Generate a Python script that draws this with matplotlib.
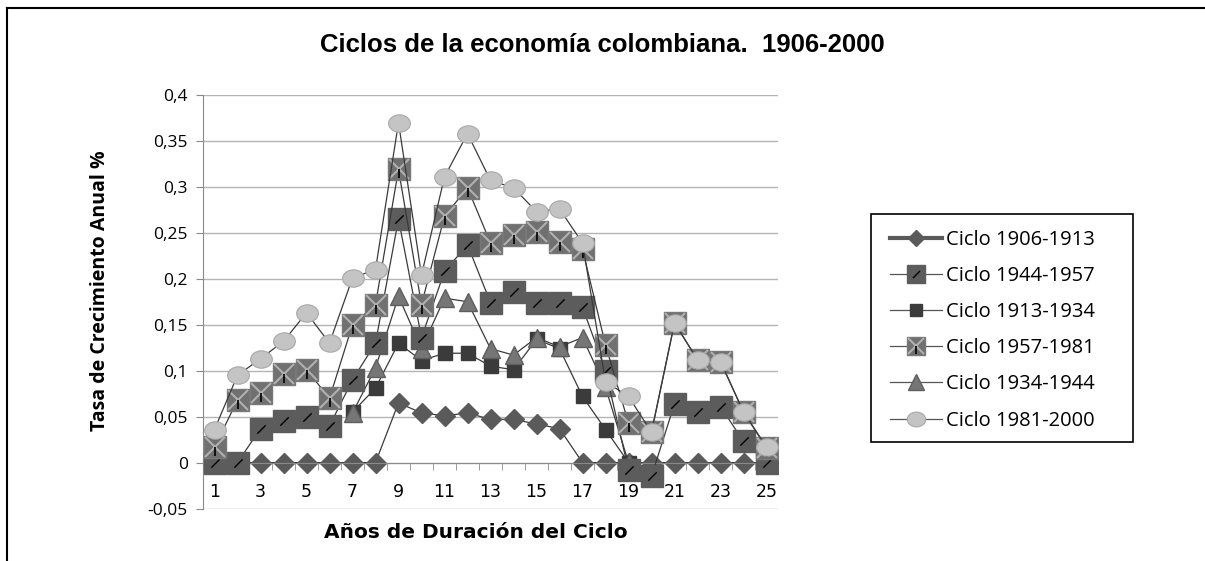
import numpy as np
import matplotlib
matplotlib.use("Agg")
import matplotlib.pyplot as plt
from matplotlib.lines import Line2D
from matplotlib.markers import MarkerStyle
from matplotlib.transforms import Affine2D
from matplotlib.legend_handler import HandlerTuple

# data
years = np.arange(1, 26)
nan = np.nan
c1906 = [0, 0, 0, 0, 0, 0, 0, 0, 0.065, 0.054, 0.051, 0.054, 0.047, 0.047, 0.042,
         0.037, 0, 0, 0, 0, 0, 0, 0, 0, 0]
c1944 = [0, 0, 0.037, 0.045, 0.05, 0.04, 0.09, 0.13, 0.265, 0.136, 0.208, 0.237,
         0.174, 0.186, 0.174, 0.174, 0.169, 0.1, -0.008, -0.015, 0.064, 0.055, 0.061,
         0.023, 0.0]
c1913 = [nan, nan, nan, nan, nan, nan, 0.055, 0.081, 0.13, 0.111, 0.119, 0.119,
         0.105, 0.101, 0.134, 0.124, 0.072, 0.036, 0.0, nan, nan, nan, nan, nan, nan]
c1957 = [0.017, 0.068, 0.076, 0.096, 0.101, 0.07, 0.15, 0.172, 0.319, 0.172, 0.268,
         0.299, 0.239, 0.248, 0.251, 0.24, 0.232, 0.128, 0.043, 0.033, 0.152, 0.112,
         0.11, 0.055, 0.016]
c1934 = [nan, nan, nan, nan, nan, nan, 0.054, 0.103, 0.181, 0.124, 0.179, 0.175,
         0.124, 0.117, 0.136, 0.126, 0.136, 0.082, 0.0, nan, nan, nan, nan, nan, nan]
c1981 = [0.036, 0.095, 0.113, 0.132, 0.163, 0.13, 0.201, 0.21, 0.37, 0.204, 0.311,
         0.358, 0.307, 0.299, 0.273, 0.276, 0.239, 0.088, 0.072, 0.033, 0.152, 0.112,
         0.11, 0.055, 0.017]

labels = ["Ciclo 1906-1913", "Ciclo 1944-1957", "Ciclo 1913-1934",
          "Ciclo 1957-1981", "Ciclo 1934-1944", "Ciclo 1981-2000"]
ytick_vals = [-0.05, 0, 0.05, 0.1, 0.15, 0.2, 0.25, 0.3, 0.35, 0.4]
ytick_text = ["-0,05", "0", "0,05", "0,1", "0,15", "0,2", "0,25", "0,3", "0,35", "0,4"]

W, H = 1205, 561
LINE = "#3a3a3a"
FONT = ["Open Sans", "DejaVu Sans"]

oval = MarkerStyle("o", transform=Affine2D().scale(1.25, 1.0))
slash = [(-1, -1), (1, 1)]
stem = [(0, 0), (0, -1)]


def styles():
    # marker layers per series
    s = {}
    s["1906"] = [dict(marker="D", ms=10, mfc="#5a5a5a", mec="#5a5a5a")]
    s["1944"] = [dict(marker="s", ms=16, mfc="#5c5c5c", mec="#5c5c5c"),
                 dict(marker=slash, ms=6, mfc="none", mec="black", mew=1.0)]
    s["1913"] = [dict(marker="s", ms=10.5, mfc="#3b3b3b", mec="#3b3b3b")]
    s["1957"] = [dict(marker="s", ms=16, mfc="#707070", mec="#787878"),
                 dict(marker="x", ms=14, mfc="none", mec="#b0b0b0", mew=1.5),
                 dict(marker=stem, ms=13, mfc="none", mec="black", mew=1.2)]
    s["1934"] = [dict(marker="^", ms=13.5, mfc="#767676", mec="#5e5e5e", mew=1.0)]
    s["1981"] = [dict(marker=oval, ms=12.5, mfc="#c4c4c4", mec="#a8a8a8", mew=0.8)]
    return s


def plotting():
    fig = plt.figure(figsize=(W / 100, H / 100), dpi=100)
    ax = fig.add_axes([203 / W, 1 - 509 / H, 575 / W, 414 / H])

    series = [("1906", c1906, 2), ("1944", c1944, 5), ("1913", c1913, 3),
              ("1957", c1957, 6), ("1934", c1934, 4), ("1981", c1981, 7)]
    st = styles()
    handles = []
    for key, vals, z in series:
        y = np.array(vals, dtype=float)
        ax.plot(years, y, color=LINE, lw=0.9, zorder=z)
        parts = []
        for i, m in enumerate(st[key]):
            ax.plot(years, y, ls="none", zorder=z + 0.01 * (i + 1), **m)
            mm = dict(m)
            mm["ms"] = m["ms"] * 0.85
            parts.append(Line2D([], [], ls="none", **mm))
        if key == "1906":
            line = Line2D([], [], color="#5a5a5a", lw=3)
        else:
            line = Line2D([], [], color="#555555", lw=0.9)
        handles.append(tuple([line] + parts))

    ax.set_xlim(0.5, 25.5)
    ax.set_ylim(-0.0505, 0.4)
    ax.set_xticks(range(1, 26, 2))
    ax.set_xticks(np.arange(0.5, 25.6, 1), minor=True)
    ax.set_yticks(ytick_vals)
    ax.set_yticklabels(ytick_text)
    ax.tick_params(axis="x", which="major", length=0, pad=15, labelsize=12.5)
    ax.tick_params(axis="x", which="minor", length=5, color="#8a8a8a")
    ax.tick_params(axis="y", length=5, color="#8a8a8a", labelsize=12.5, pad=6)
    for lab in ax.get_xticklabels() + ax.get_yticklabels():
        lab.set_family(FONT)
    ax.spines["bottom"].set_position(("data", 0))
    ax.spines["bottom"].set_color("#8a8a8a")
    ax.spines["left"].set_color("#8a8a8a")
    ax.spines["top"].set_visible(False)
    ax.spines["right"].set_visible(False)
    ax.yaxis.grid(True, color="#b4b4b4", lw=1)
    ax.set_axisbelow(True)

    fig.text(0.5, 1 - 45 / H, "Ciclos de la economía colombiana.  1906-2000",
             ha="center", va="center", fontsize=18.5, fontweight="bold",
             family=["Liberation Sans", "DejaVu Sans"])
    fig.text(100 / W, 1 - 291 / H, "Tasa de Crecimiento Anual %", rotation=90,
             ha="center", va="center", fontsize=14, fontweight="bold", family=FONT)
    fig.text(476 / W, 1 - 532 / H, "Años de Duración del Ciclo", ha="center",
             va="center", fontsize=14.5, fontweight="bold", family=["DejaVu Sans"])

    # legend box
    fig.patches.append(plt.Rectangle((871 / W, 1 - 442 / H), 262 / W, 228 / H,
                                     transform=fig.transFigure, fill=False,
                                     ec="black", lw=1.2))
    fig.legend(handles, labels, loc="upper left",
               bbox_to_anchor=(890 / W, 1 - 230 / H), frameon=False,
               borderpad=0, borderaxespad=0, labelspacing=0.8,
               handlelength=2.6, handletextpad=0.2,
               handler_map={tuple: HandlerTuple(ndivide=1, pad=0)},
               prop={"family": FONT, "size": 14.5})

    # outer frame (top and left edges)
    fig.add_artist(Line2D([7 / W, 1], [1 - 8 / H, 1 - 8 / H], color="black", lw=1.5,
                          transform=fig.transFigure))
    fig.add_artist(Line2D([7 / W, 7 / W], [0, 1 - 8 / H], color="black", lw=1.5,
                          transform=fig.transFigure))

    fig.savefig("out.png", dpi=100)


if __name__ == "__main__":
    plotting()
